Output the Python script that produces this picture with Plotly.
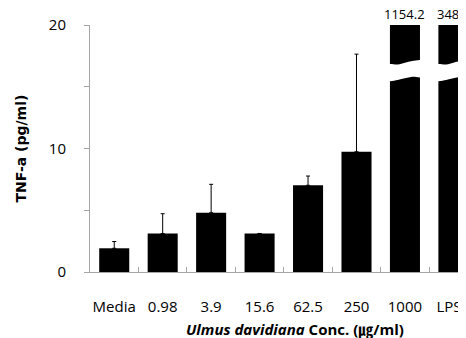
import plotly.graph_objects as go

categories = ["Media", "0.98", "3.9", "15.6", "62.5", "250", "1000", "LPS"]
tnf_mean = [1.92, 3.12, 4.8, 3.12, 7.02, 9.74, 1154.2, 348.1]
tnf_err = [0.55, 1.6, 2.3, None, 0.75, 7.9, None, None]
value_labels = ["", "", "", "", "", "", "1154.2", "348.1"]
y_ticks = [0, 10, 20]

FONT = "Open Sans, Noto Sans CJK KR, sans-serif"
AX = "#a6a6a6"
xs = list(range(len(categories)))
# the last category label is nudged left so it stays inside the frame
label_pos = xs[:-1] + [xs[-1] - 0.09]

fig = go.Figure()
fig.add_trace(go.Bar(
    x=xs, y=tnf_mean, width=0.62,
    marker=dict(color="black", line=dict(width=0)),
    error_y=dict(type="data", array=tnf_err, arrayminus=[0] * len(tnf_err),
                 symmetric=False, color="black", thickness=1, width=2),
    showlegend=False, hoverinfo="skip",
))

# axis-break decoration on the clipped bars
top_edge = [16.78, 16.8, 16.95, 17.08, 17.1]
bot_edge = [15.52, 15.55, 15.68, 15.8, 15.83]
offs = [-0.36, -0.15, 0.0, 0.15, 0.36]
for i, lab in enumerate(value_labels):
    if not lab:
        continue
    px = [i + o for o in offs] + [i + o for o in reversed(offs)]
    py = top_edge + list(reversed(bot_edge))
    fig.add_trace(go.Scatter(x=px + [px[0]], y=py + [py[0]], mode="lines",
                             fill="toself", fillcolor="white",
                             line=dict(color="white", width=0, shape="spline"),
                             showlegend=False, hoverinfo="skip"))
    fig.add_annotation(x=i, y=20, text=lab, showarrow=False, yanchor="bottom",
                       yshift=0, font=dict(family=FONT, size=13, color="black"))

fig.update_layout(
    width=458, height=330,
    margin=dict(l=82, r=0, t=17, b=66, autoexpand=False),
    paper_bgcolor="white", plot_bgcolor="white",
    font=dict(family=FONT, size=15, color="black"),
    xaxis=dict(range=[-0.5, 7.26], tickmode="array", tickvals=label_pos,
               ticktext=categories, ticks="", showline=True, linecolor=AX,
               linewidth=1, showgrid=False, zeroline=False, automargin=False,
               ticklabelstandoff=21,
               tickfont=dict(family=FONT, size=15, color="black"),
               minor=dict(tickmode="array",
                          tickvals=[k + 0.5 for k in xs],
                          ticks="inside", ticklen=5, tickcolor=AX)),
    yaxis=dict(range=[0, 20], tickmode="array", tickvals=y_ticks,
               ticks="outside", ticklen=5, tickcolor=AX, showline=True,
               linecolor=AX, linewidth=1, showgrid=False, zeroline=False,
               automargin=False, ticklabelstandoff=15,
               tickfont=dict(family=FONT, size=15, color="black"),
               minor=dict(tickmode="array", tickvals=[5, 15],
                          ticks="outside", ticklen=5, tickcolor=AX)),
)
fig.add_annotation(xref="paper", yref="paper", x=0, y=0.5, xshift=-70,
                   xanchor="center", yanchor="middle", textangle=-90,
                   showarrow=False, text="<b>TNF-a (pg/ml)</b>",
                   font=dict(family="DejaVu Sans", size=14, color="black"))
fig.add_annotation(xref="paper", yref="paper", x=0.545, y=0, yshift=-57,
                   yanchor="middle", showarrow=False,
                   text="<b><i>Ulmus davidiana</i> Conc. (㎍/ml)</b>",
                   font=dict(family=FONT, size=15, color="black"))

fig.write_html("out.html")
